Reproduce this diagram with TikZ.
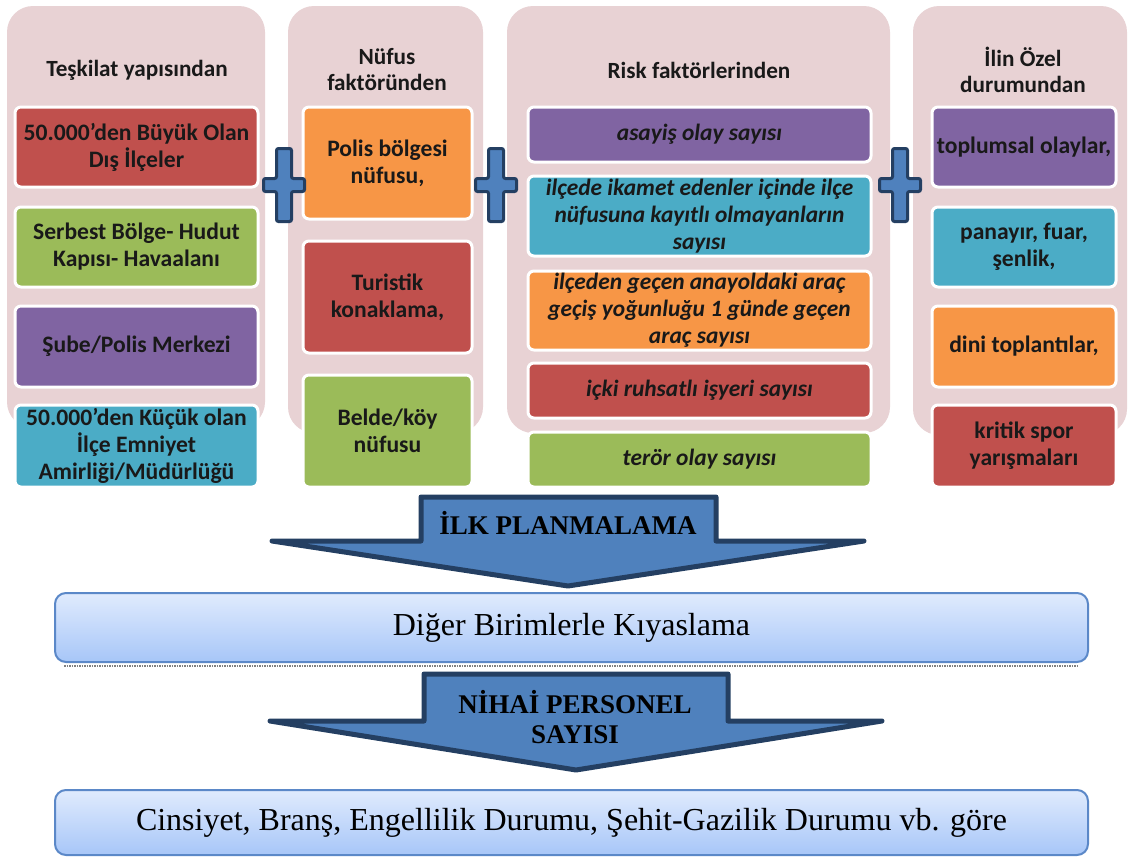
\documentclass[tikz,border=0pt]{standalone}
\usepackage{fontspec}
\setmainfont{Carlito}
\newfontfamily\tnr{Liberation Serif}
\definecolor{cred}{HTML}{C0504D}
\definecolor{cgreen}{HTML}{9BBB59}
\definecolor{cpurple}{HTML}{8064A2}
\definecolor{cteal}{HTML}{4BACC6}
\definecolor{corange}{HTML}{F79646}
\definecolor{pinkbg}{HTML}{E8D2D4}
\definecolor{plusfill}{HTML}{4F81BD}
\definecolor{plusline}{HTML}{243F62}
\definecolor{boxline}{HTML}{5B88C8}
\definecolor{boxtop}{HTML}{E0EBFD}
\definecolor{boxbot}{HTML}{A7C6F8}
\tikzset{
  colbg/.style={fill=pinkbg, rounded corners=26pt},
  card/.style={rounded corners=6pt, draw=white, line width=3pt, align=center,
    font=\fontsize{23.6}{27}\selectfont\bfseries, inner sep=1pt, text=black!90},
  riskcard/.style={card, font=\fontsize{23.4}{27}\selectfont\bfseries\itshape},
  head/.style={align=center, font=\fontsize{23.2}{26}\selectfont\bfseries, text=black!90},
  plussign/.style={fill=plusfill, draw=plusline, line width=3pt, rounded corners=2pt},
  blockarrow/.style={fill=plusfill, draw=plusline, line width=5pt, line join=round},
  arrowlabel/.style={font=\tnr\bfseries\fontsize{27}{30}\selectfont, align=center, text=black},
  resultbox/.style={rounded corners=11pt, draw=boxline, line width=2pt,
    top color=boxtop, bottom color=boxbot, font=\tnr\fontsize{32}{36}\selectfont, text=black}
}
\newcommand\cardnode[8]{\node[#8, fill=#2, minimum width=#5pt, minimum height=#6pt] (#1) at (#3,#4) {#7};}
\newcommand\plusat[2]{\draw[plussign, shift={(#1,#2)}]
  (-7.5,-36.5) -- (7.5,-36.5) -- (7.5,-6.5) -- (20.5,-6.5) -- (20.5,6.5) -- (7.5,6.5) --
  (7.5,36.5) -- (-7.5,36.5) -- (-7.5,6.5) -- (-20.5,6.5) -- (-20.5,-6.5) -- (-7.5,-6.5) -- cycle;}
\begin{document}
\begin{tikzpicture}[x=1pt, y=-1pt]
\useasboundingbox (0,0) rectangle (1128,857);
\fill[white] (0,0) rectangle (1128,857);
% column backgrounds
\fill[colbg] (7,6) rectangle (265,428);
\fill[colbg] (288,6) rectangle (483,433);
\fill[colbg] (507,6) rectangle (890,433);
\fill[colbg] (913,6) rectangle (1127,435);
% headers
\node[head] (h1) at (137,70) {Teşkilat yapısından};
\node[head] (h2) at (387,70) {Nüfus\\faktöründen};
\node[head] (h3) at (699,70) {Risk faktörlerinden};
\node[head] (h4) at (1023,70) {İlin Özel\\durumundan};
% column 1
\cardnode{c1a}{cred}{136.5}{147}{243}{80}{50.000’den Büyük Olan\\Dış İlçeler}{card}
\cardnode{c1b}{cgreen}{136.5}{247}{243}{80}{Serbest Bölge- Hudut\\Kapısı- Havaalanı}{card}
\cardnode{c1c}{cpurple}{136.5}{346.5}{243}{81}{Şube/Polis Merkezi}{card}
\cardnode{c1d}{cteal}{136.5}{446}{243}{82}{50.000’den Küçük olan\\İlçe Emniyet\\Amirliği/Müdürlüğü}{card}
% column 2
\cardnode{c2a}{corange}{387.5}{163}{169}{112}{Polis bölgesi\\nüfusu,}{card}
\cardnode{c2b}{cred}{387.5}{297}{169}{112}{Turistik\\konaklama,}{card}
\cardnode{c2c}{cgreen}{387.5}{431}{169}{112}{Belde/köy\\nüfusu}{card}
% column 3
\cardnode{c3a}{cpurple}{699.5}{134.5}{343}{55}{asayiş olay sayısı}{riskcard}
\cardnode{c3b}{cteal}{699.5}{216}{343}{80}{ilçede ikamet edenler içinde ilçe\\nüfusuna kayıtlı olmayanların\\sayısı}{riskcard}
\cardnode{c3c}{corange}{699.5}{310.5}{343}{79}{ilçeden geçen anayoldaki araç\\geçiş yoğunluğu 1 günde geçen\\araç sayısı}{riskcard}
\cardnode{c3d}{cred}{699.5}{390.5}{343}{55}{içki ruhsatlı işyeri sayısı}{riskcard}
\cardnode{c3e}{cgreen}{699.5}{459.5}{343}{55}{terör olay sayısı}{riskcard}
% column 4
\cardnode{c4a}{cpurple}{1024}{147}{184}{80}{toplumsal olaylar,}{card}
\cardnode{c4b}{cteal}{1024}{247}{184}{80}{panayır, fuar,\\şenlik,}{card}
\cardnode{c4c}{corange}{1024}{346.5}{184}{81}{dini toplantılar,}{card}
\cardnode{c4d}{cred}{1024}{446}{184}{82}{kritik spor\\yarışmaları}{card}
% plus signs
\plusat{284}{185}
\plusat{496}{185}
\plusat{900}{185}
% block arrow 1
\draw[blockarrow] (421,497) -- (716,497) -- (716,541) -- (864,541) -- (568,586) -- (272,541) -- (421,541) -- cycle;
\node[arrowlabel] (a1) at (568,523) {İLK PLANMALAMA};
% result box 1
\node[resultbox, minimum width=1033pt, minimum height=69pt] (b1) at (571.5,627.5) {Diğer Birimlerle Kıyaslama};
\draw[gray, densely dotted, line width=1.5pt] ([xshift=10pt,yshift=-3pt]b1.south west) -- ([xshift=-10pt,yshift=-3pt]b1.south east);
% block arrow 2
\draw[blockarrow] (424,674) -- (728,674) -- (728,721) -- (882,721) -- (576,770) -- (270,721) -- (424,721) -- cycle;
\node[arrowlabel] (a2) at (575,717) {NİHAİ PERSONEL\\SAYISI};
% result box 2
\node[resultbox, minimum width=1033pt, minimum height=65pt] (b2) at (571.5,822.5) {Cinsiyet, Branş, Engellilik Durumu, Şehit-Gazilik Durumu vb. göre};
\end{tikzpicture}
\end{document}
